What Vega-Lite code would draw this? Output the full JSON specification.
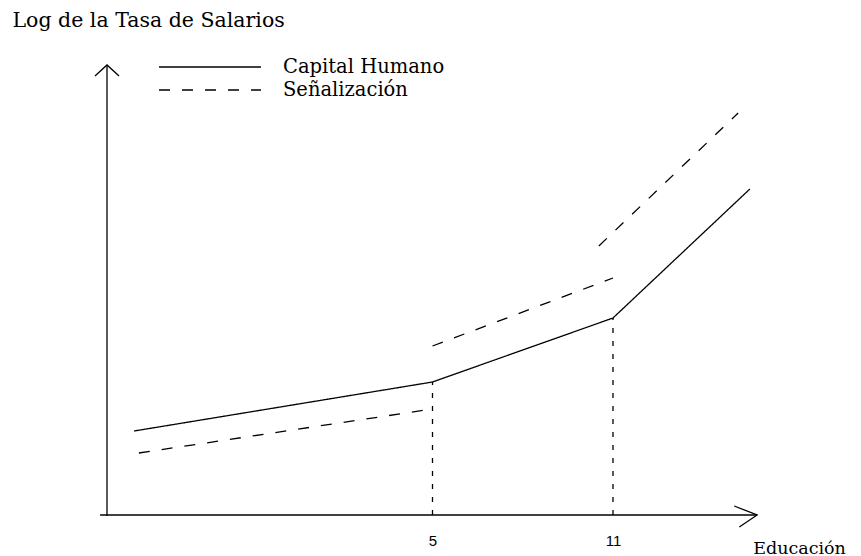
{
  "$schema": "https://vega.github.io/schema/vega-lite/v6.json",
  "width": 861,
  "height": 515,
  "autosize": {"type": "none"},
  "padding": {"left": 0, "right": 0, "top": 0, "bottom": 41},
  "background": "white",
  "config": {"view": {"stroke": null}},
  "datasets": {
    "frame": [
      {"part": "yaxis", "i": 0, "x": -5.82, "y": -0.1},
      {"part": "yaxis", "i": 1, "x": -5.82, "y": 45.0},
      {"part": "uparrow", "i": 0, "x": -6.22, "y": 43.9},
      {"part": "uparrow", "i": 1, "x": -5.82, "y": 45.0},
      {"part": "uparrow", "i": 2, "x": -5.42, "y": 43.9},
      {"part": "xaxis", "i": 0, "x": -6.05, "y": 0},
      {"part": "xaxis", "i": 1, "x": 15.79, "y": 0},
      {"part": "rightarrow", "i": 0, "x": 15.03, "y": 0.9},
      {"part": "rightarrow", "i": 1, "x": 15.79, "y": 0},
      {"part": "rightarrow", "i": 2, "x": 15.2, "y": -1.2}
    ],
    "series": [
      {"series": "Capital Humano", "seg": "ch", "x": -4.92, "y": 8.4},
      {"series": "Capital Humano", "seg": "ch", "x": 5, "y": 13.3},
      {"series": "Capital Humano", "seg": "ch", "x": 11, "y": 19.7},
      {"series": "Capital Humano", "seg": "ch", "x": 15.55, "y": 32.6},
      {"series": "Señalización", "seg": "s1", "x": -4.76, "y": 6.2},
      {"series": "Señalización", "seg": "s1", "x": 5, "y": 10.6},
      {"series": "Señalización", "seg": "s2", "x": 5, "y": 16.9},
      {"series": "Señalización", "seg": "s2", "x": 11, "y": 23.7},
      {"series": "Señalización", "seg": "s3", "x": 10.53, "y": 26.9},
      {"series": "Señalización", "seg": "s3", "x": 15.16, "y": 40.2}
    ],
    "drops": [
      {"x": 5, "y": 0, "y2": 13.3},
      {"x": 11, "y": 0, "y2": 19.7}
    ]
  },
  "encoding": {
    "x": {
      "field": "x",
      "type": "quantitative",
      "scale": {"domain": [-9.377, 19.244], "nice": false, "zero": false},
      "axis": {
        "values": [5, 11],
        "domain": false,
        "ticks": false,
        "grid": false,
        "labelFont": "Liberation Sans",
        "labelFontSize": 15,
        "labelColor": "black",
        "labelPadding": 18,
        "labelDx": 2,
        "title": "Educación",
        "titleFont": "DejaVu Serif",
        "titleFontSize": 17.5,
        "titleFontWeight": "normal",
        "titleColor": "black",
        "titleX": 799,
        "titleY": 33,
        "titleAlign": "center",
        "titleBaseline": "middle"
      }
    },
    "y": {
      "field": "y",
      "type": "quantitative",
      "scale": {"domain": [0, 51.5], "nice": false, "zero": false},
      "axis": {
        "domain": false,
        "ticks": false,
        "labels": false,
        "grid": false,
        "title": "Log de la Tasa de Salarios",
        "titleFont": "DejaVu Serif",
        "titleFontSize": 20.5,
        "titleFontWeight": "normal",
        "titleColor": "black",
        "titleAngle": 0,
        "titleAlign": "left",
        "titleBaseline": "middle",
        "titleX": 12,
        "titleY": 20
      }
    }
  },
  "layer": [
    {
      "data": {"name": "frame"},
      "mark": {"type": "line", "color": "black", "strokeWidth": 1.3},
      "encoding": {
        "detail": {"field": "part"},
        "order": {"field": "i", "type": "quantitative"}
      }
    },
    {
      "data": {"name": "drops"},
      "mark": {"type": "rule", "color": "black", "strokeWidth": 1.3, "strokeDash": [5, 8]},
      "encoding": {
        "y2": {"field": "y2"}
      }
    },
    {
      "data": {"name": "series"},
      "mark": {"type": "line", "color": "black", "strokeWidth": 1.3},
      "encoding": {
        "detail": {"field": "seg"},
        "strokeDash": {
          "field": "series",
          "type": "nominal",
          "scale": {"domain": ["Capital Humano", "Señalización"], "range": [[1, 0], [11, 12]]},
          "legend": {
            "title": null,
            "orient": "none",
            "legendX": 199,
            "legendY": 56,
            "symbolType": "M-5,0H5",
            "symbolSize": 416,
            "symbolStrokeWidth": 1.3,
            "symbolStrokeColor": "black",
            "symbolFillColor": "transparent",
            "labelFont": "DejaVu Serif",
            "labelFontSize": 19.5,
            "labelColor": "black",
            "labelOffset": 62,
            "labelLimit": 400,
            "rowPadding": 2
          }
        }
      }
    }
  ]
}
